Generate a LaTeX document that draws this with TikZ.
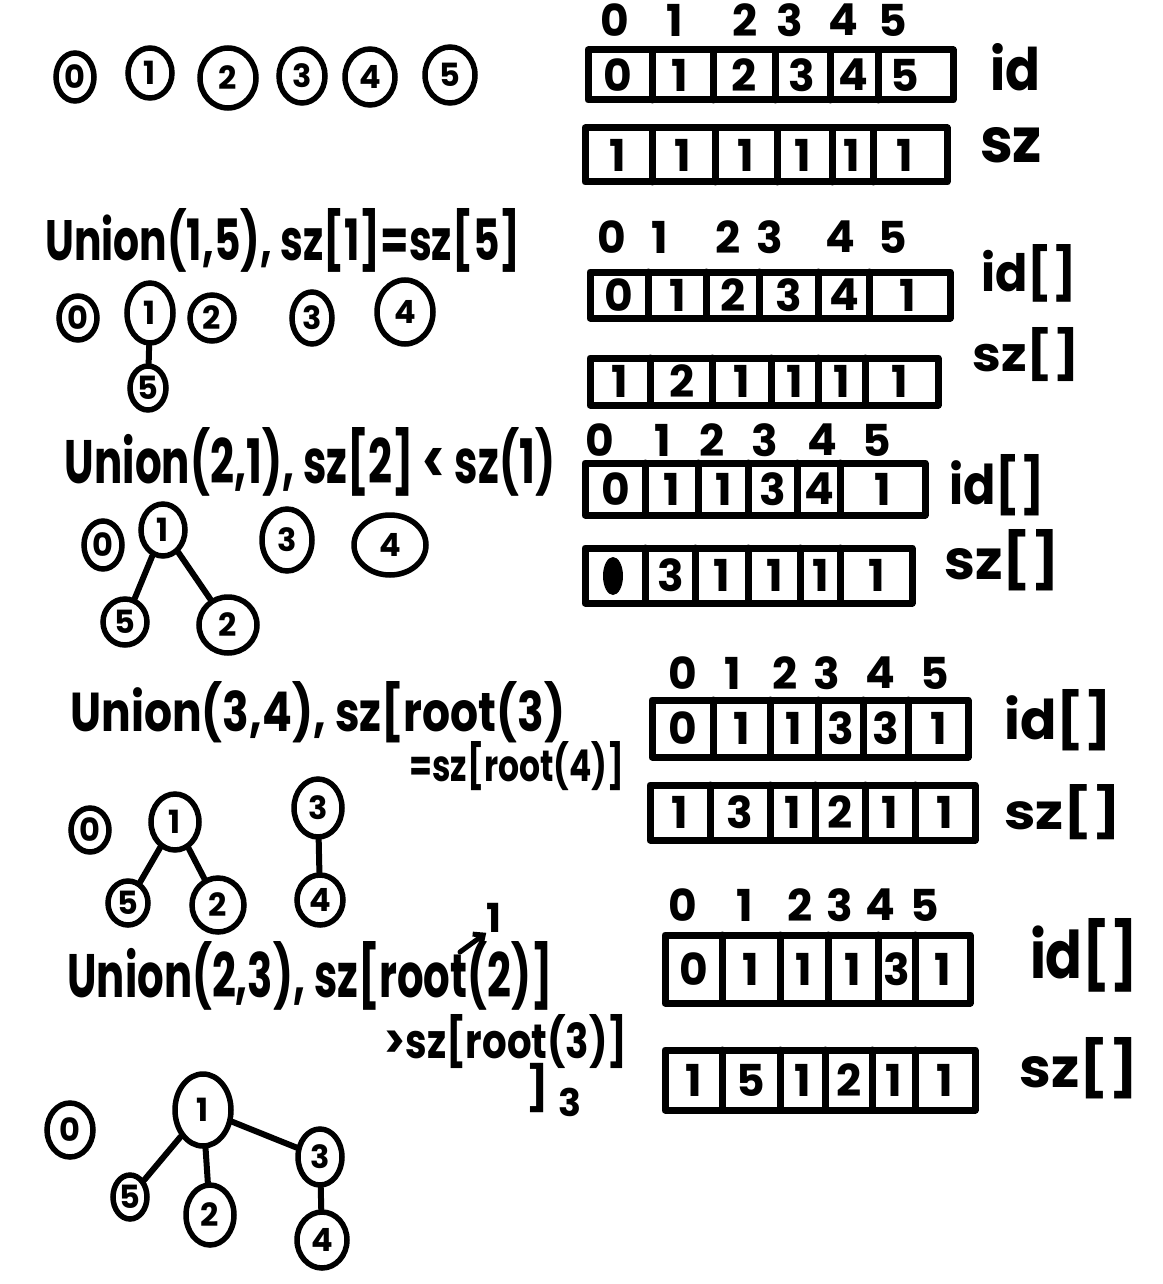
\documentclass[tikz,border=0pt]{standalone}
\usepackage{fontspec}
\usepackage{graphicx}
\setmainfont{Poppins}
\usetikzlibrary{shapes.geometric,arrows.meta}
\newcommand\hw[3]{\resizebox{#1pt}{#2pt}{\bfseries #3}}
\newcommand\myarr[7]{%
  \draw[arr] (#2,#3) rectangle (#4,#5);
  \foreach \d in {#6} \draw[arr] (\d,#3) -- (\d,#5);
  \foreach \x/\v [count=\i] in {#7} \node[cellv] (#1c\i) at (\x,{(#3+#5)/2}) {\v};
}
\newcommand\myidx[3]{%
  \foreach \x/\v [count=\i] in {#3} \node[idx] (#1i\i) at (\x,#2) {\v};
}
\begin{document}
\begin{tikzpicture}[x=1pt,y=-1pt,
  vtx/.style={draw, ellipse, line width=5.5pt, inner sep=0pt, font=\fontsize{32}{32}\selectfont\bfseries},
  tedge/.style={line width=6pt, line cap=round},
  arr/.style={line width=7pt, line cap=round, line join=round},
  cellv/.style={font=\fontsize{44}{44}\selectfont\bfseries, inner sep=0pt},
  idx/.style={font=\fontsize{44}{44}\selectfont\bfseries, inner sep=0pt},
  capt/.style={inner sep=0pt}]
\useasboundingbox[fill=white] (0,0) rectangle (1162,1284);

% ---------- Section 1 ----------
\node[vtx, minimum width=38pt, minimum height=48pt] (a0) at (75,77) {0};
\node[vtx, minimum width=44pt, minimum height=50pt] (a1) at (150,73) {1};
\node[vtx, minimum width=56pt, minimum height=60pt] (a2) at (228,78) {2};
\node[vtx, minimum width=46pt, minimum height=54pt] (a3) at (302,76) {3};
\node[vtx, minimum width=50pt, minimum height=56pt] (a4) at (370,77) {4};
\node[vtx, minimum width=50pt, minimum height=56pt] (a5) at (450,75) {5};

\myidx{A}{20}{615/0,675/1,745/2,790/3,843/4,893/5}
\myarr{Aid}{588}{50}{953}{100}{652,713,775,830,878}{618/0,680/1,744/2,802/3,853/4,905/5}
\myarr{Asz}{585}{128}{947}{182}{652,715,777,832,873}{618/1,683/1,746/1,803/1,852/1,905/1}
\node[capt] (Aidl) at (1015,67) {\hw{50}{47}{id}};
\node[capt] (Aszl) at (1011,145) {\hw{62}{35}{sz}};

% ---------- Section 2 ----------
\node[capt] (Bcap) at (283,240) {\hw{475}{52}{Union(1,5), sz[1]=sz[5]}};
\node[vtx, minimum width=38pt, minimum height=44pt] (b0) at (78,318) {0};
\node[vtx, minimum width=46pt, minimum height=60pt] (b1) at (150,313) {1};
\node[vtx, minimum width=44pt, minimum height=46pt] (b2) at (212,318) {2};
\node[vtx, minimum width=40pt, minimum height=52pt] (b3) at (312,318) {3};
\node[vtx, minimum width=56pt, minimum height=64pt] (b4) at (405,312) {4};
\node[vtx, minimum width=36pt, minimum height=44pt] (b5) at (148,388) {5};
\draw[tedge] (b1) -- (b5);

\myidx{B}{237}{612/0,660/1,728/2,770/3,840/4,893/5}
\myarr{Bid}{590}{272}{950}{318}{648,706,759,818,869}{619/0,678/1,733/2,789/3,844/4,908/1}
\myarr{Bsz}{590}{358}{938}{405}{650,712,771,818,865}{620/1,682/2,742/1,795/1,842/1,900/1}
\node[capt] (Bidl) at (1029,273) {\hw{95}{47}{id[]}};
\node[capt] (Bszl) at (1026,355) {\hw{107}{44}{sz[]}};

% ---------- Section 3 ----------
\node[capt] (Ccap) at (310,462) {\hw{490}{56}{Union(2,1), sz[2] < sz(1)}};
\node[vtx, minimum width=38pt, minimum height=48pt] (c0) at (103,545) {0};
\node[vtx, minimum width=44pt, minimum height=52pt] (c1) at (163,530) {1};
\node[vtx, minimum width=50pt, minimum height=62pt] (c3) at (287,540) {3};
\node[vtx, minimum width=72pt, minimum height=60pt] (c4) at (390,545) {4};
\node[vtx, minimum width=44pt, minimum height=46pt] (c5) at (125,622) {5};
\node[vtx, minimum width=58pt, minimum height=56pt] (c2) at (228,625) {2};
\draw[tedge] (c1) -- (c5);
\draw[tedge] (c1) -- (c2);

\myidx{C}{440}{600/0,663/1,712/2,765/3,822/4,877/5}
\myarr{Cid}{585}{463}{925}{515}{645,698,748,797,840}{616/0,672/1,724/1,773/3,819/4,883/1}
\myarr{Csz}{585}{548}{912}{603}{645,695,748,800,840}{671/3,722/1,775/1,821/1,877/1}
\node[fill, ellipse, minimum width=20pt, minimum height=38pt, inner sep=0pt] (Cblob) at (613,576) {};
\node[capt] (Cidl) at (997,485) {\hw{95}{50}{id[]}};
\node[capt] (Cszl) at (1002,560) {\hw{115}{50}{sz[]}};

% ---------- Section 4 ----------
\node[capt] (Dcap) at (318,712) {\hw{495}{50}{Union(3,4), sz[root(3)}};
\node[capt] (Dcap2) at (517,766) {\hw{215}{40}{=sz[root(4)]}};
\node[vtx, minimum width=38pt, minimum height=44pt] (d0) at (90,830) {0};
\node[vtx, minimum width=48pt, minimum height=56pt] (d1) at (175,822) {1};
\node[vtx, minimum width=48pt, minimum height=58pt] (d3) at (318,808) {3};
\node[vtx, minimum width=40pt, minimum height=44pt] (d5) at (128,903) {5};
\node[vtx, minimum width=52pt, minimum height=54pt] (d2) at (218,905) {2};
\node[vtx, minimum width=46pt, minimum height=50pt] (d4) at (320,900) {4};
\draw[tedge] (d1) -- (d5);
\draw[tedge] (d1) -- (d2);
\draw[tedge] (d3) -- (d4);

\myidx{D}{673}{683/0,733/1,785/2,827/3,880/4,935/5}
\myarr{Did}{652}{700}{968}{757}{713,770,818,863,908}{683/0,742/1,794/1,841/3,886/3,939/1}
\myarr{Dsz}{650}{785}{975}{840}{710,770,815,865,915}{680/1,740/3,793/1,840/2,890/1,945/1}
\node[capt] (Didl) at (1058,720) {\hw{107}{50}{id[]}};
\node[capt] (Dszl) at (1063,812) {\hw{117}{45}{sz[]}};

% ---------- Section 5 ----------
\node[capt] (Ecap) at (310,976) {\hw{485}{56}{Union(2,3), sz[root(2)]}};
\node[capt] (Ecap2) at (506,1042) {\hw{243}{44}{>sz[root(3)]}};
\node[capt, font=\fontsize{40}{40}\selectfont\bfseries] (Eone) at (494,918) {1};
\coordinate (Earr) at (460,952);
\draw[tedge, line width=5pt, -{Straight Barb[length=8pt,width=14pt]}] (Earr) -- (Eone.south west);
\node[capt, font=\fontsize{44}{44}\selectfont\bfseries] (Ebr) at (538,1088) {]};
\node[capt, font=\fontsize{38}{38}\selectfont\bfseries] (Ethree) at (570,1102) {3};
\node[vtx, minimum width=46pt, minimum height=54pt] (e0) at (70,1130) {0};
\node[vtx, minimum width=56pt, minimum height=72pt] (e1) at (203,1110) {1};
\node[vtx, minimum width=44pt, minimum height=56pt] (e3) at (320,1157) {3};
\node[vtx, minimum width=34pt, minimum height=44pt] (e5) at (130,1197) {5};
\node[vtx, minimum width=48pt, minimum height=60pt] (e2) at (210,1215) {2};
\node[vtx, minimum width=50pt, minimum height=56pt] (e4) at (322,1240) {4};
\draw[tedge] (e1) -- (e5);
\draw[tedge] (e1) -- (e2);
\draw[tedge] (e1) -- (e3);
\draw[tedge] (e3) -- (e4);

\myidx{E}{905}{683/0,745/1,800/2,840/3,880/4,925/5}
\myarr{Eid}{665}{935}{970}{1003}{722,780,828,878,915}{694/0,751/1,804/1,853/1,897/3,943/1}
\myarr{Esz}{665}{1050}{975}{1110}{722,780,825,872,915}{694/1,751/5,803/1,849/2,894/1,945/1}
\node[capt] (Eidl) at (1084,955) {\hw{108}{60}{id[]}};
\node[capt] (Eszl) at (1079,1068) {\hw{118}{50}{sz[]}};
\end{tikzpicture}
\end{document}
